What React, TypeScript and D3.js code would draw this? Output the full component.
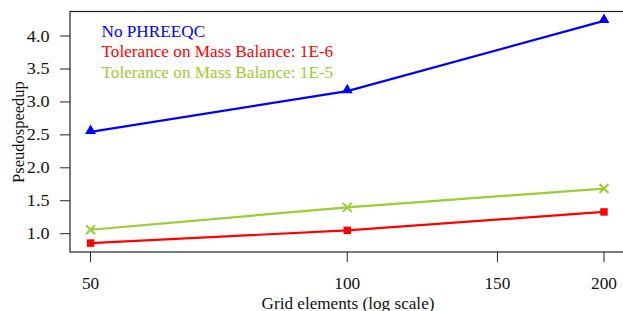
import React from "react";
import * as d3 from "d3";

const gridElements = [50, 100, 200];
const noPhreeqc = [2.545, 3.165, 4.23];
const tol1e6 = [0.857, 1.05, 1.33];
const tol1e5 = [1.06, 1.4, 1.685];
const xTicks = [50, 100, 150, 200];
const yTicks = [1.0, 1.5, 2.0, 2.5, 3.0, 3.5, 4.0];
const legendLabels = ["No PHREEQC", "Tolerance on Mass Balance: 1E-6", "Tolerance on Mass Balance: 1E-5"];
const seriesColors = ["#0000FF", "#FF0000", "#9ACD32"];

const W = 623;
const H = 311;
const L = 70, R = 624.5, T = 12, B = 252;
const font = "'Liberation Serif', 'Times New Roman', serif";

export default function App() {
  const x = d3.scaleLog().domain([47.3, 211.4]).range([L, R]);
  const y = d3.scaleLinear().domain([0.722, 4.365]).range([B, T]);
  const line = d3
    .line<[number, number]>()
    .x((d) => x(d[0]))
    .y((d) => y(d[1]));
  const series = [noPhreeqc, tol1e6, tol1e5];
  const tri = d3.symbol().type(d3.symbolTriangle).size(52)() as string;
  const sq = d3.symbol().type(d3.symbolSquare).size(56)() as string;

  return (
    <svg
      width={W}
      height={H}
      style={{ position: "absolute", left: 0, top: 0, background: "#fff" }}
      fontFamily={font}
    >
      <rect x={L} y={T - 0.5} width={R - L} height={B - T + 0.5} fill="none" stroke="#222" strokeWidth={1.2} />
      {yTicks.map((t) => (
        <g key={t}>
          <line x1={L - 10} x2={L} y1={y(t)} y2={y(t)} stroke="#222" strokeWidth={1} />
          <text
            transform={`translate(49.5,${y(t) + 5.5}) scale(1.1,1)`}
            textAnchor="end"
            fontSize={16.5}
            fill="#111"
          >
            {t.toFixed(1)}
          </text>
        </g>
      ))}
      {xTicks.map((t) => (
        <g key={t}>
          <line x1={x(t)} x2={x(t)} y1={B} y2={B + 10} stroke="#222" strokeWidth={1} />
          <text
            transform={`translate(${x(t)},289) scale(1.05,1)`}
            textAnchor="middle"
            fontSize={16.5}
            fill="#111"
          >
            {t}
          </text>
        </g>
      ))}
      <text
        transform="translate(348,308.5) scale(1.04,1)"
        textAnchor="middle"
        fontSize={16.5}
        fill="#111"
      >
        Grid elements (log scale)
      </text>
      <text
        transform={`translate(23.5,${(T + B) / 2}) rotate(-90)`}
        textAnchor="middle"
        fontSize={16.5}
        fill="#111"
      >
        Pseudospeedup
      </text>
      {series.map((vals, i) => {
        const pts = gridElements.map((g, j) => [g, vals[j]] as [number, number]);
        return (
          <g key={i}>
            <path d={line(pts) as string} fill="none" stroke={seriesColors[i]} strokeWidth={2.2} />
            {pts.map((p, j) => {
              const cx = x(p[0]);
              const cy = y(p[1]);
              if (i === 0)
                return <path key={j} d={tri} transform={`translate(${cx},${cy - 1})`} fill={seriesColors[i]} />;
              if (i === 1)
                return <path key={j} d={sq} transform={`translate(${cx},${cy})`} fill={seriesColors[i]} />;
              return (
                <g key={j} stroke={seriesColors[i]} strokeWidth={2}>
                  <line x1={cx - 4.5} x2={cx + 4.5} y1={cy - 4.5} y2={cy + 4.5} />
                  <line x1={cx - 4.5} x2={cx + 4.5} y1={cy + 4.5} y2={cy - 4.5} />
                </g>
              );
            })}
          </g>
        );
      })}
      {legendLabels.map((lab, i) => (
        <text
          key={lab}
          transform={`translate(101.5,${37 + i * 20.3})`}
          fontSize={17.2}
          fill={seriesColors[i]}
        >
          {lab}
        </text>
      ))}
    </svg>
  );
}
